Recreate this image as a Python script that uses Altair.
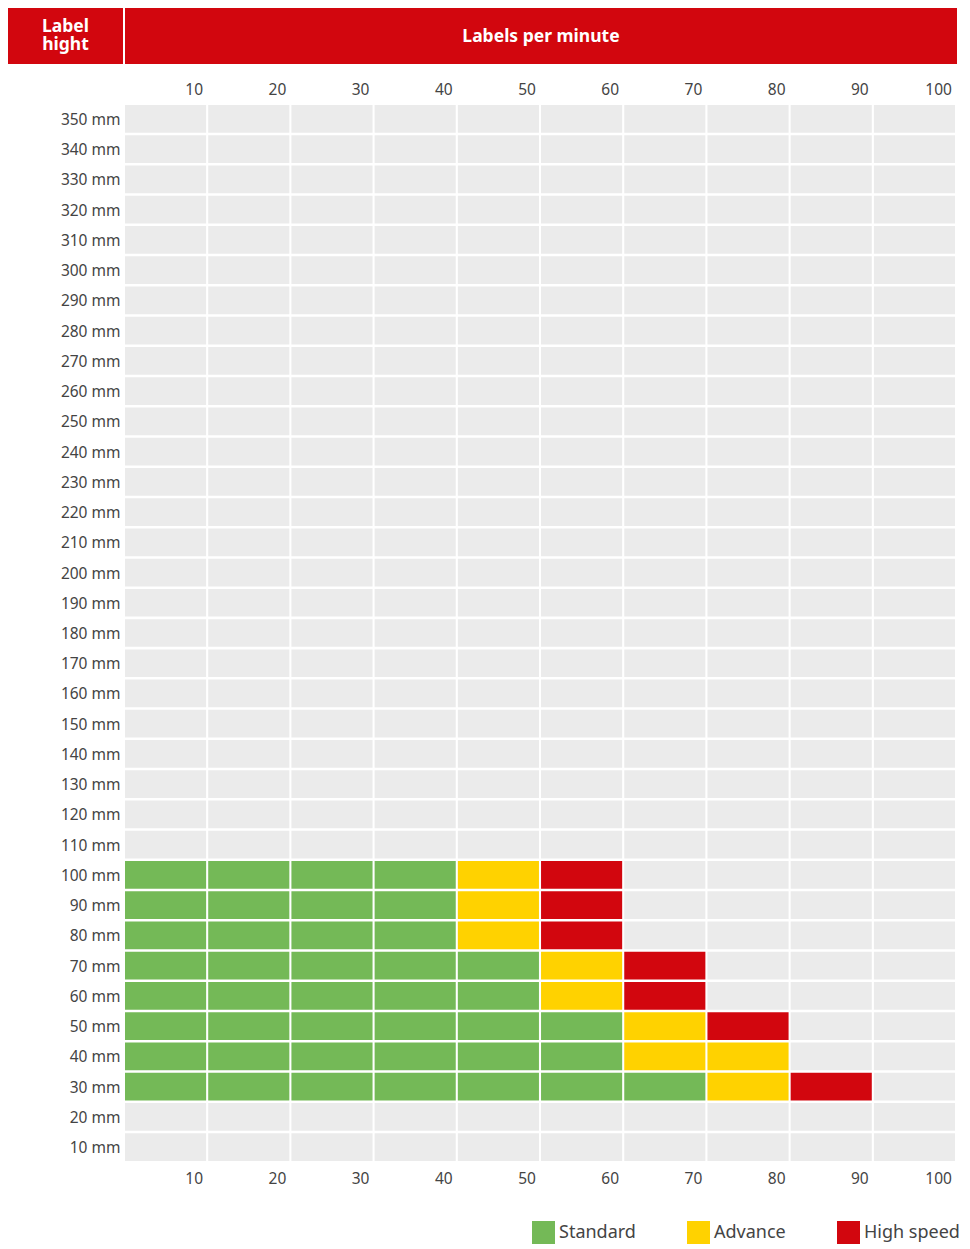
import altair as alt
import pandas as pd

# ---------------- data ----------------
speeds = [10, 20, 30, 40, 50, 60, 70, 80, 90, 100]
heights = [350, 340, 330, 320, 310, 300, 290, 280, 270, 260, 250, 240, 230, 220,
           210, 200, 190, 180, 170, 160, 150, 140, 130, 120, 110, 100, 90, 80,
           70, 60, 50, 40, 30, 20, 10]

# rows that have coloured cells, with the highest speed reached by each class
colored_heights = [100, 90, 80, 70, 60, 50, 40, 30]
standard_max = [40, 40, 40, 50, 50, 60, 60, 70]
advance_max = [50, 50, 50, 60, 60, 70, 80, 80]
highspeed_max = [60, 60, 60, 70, 70, 80, 80, 90]

categories = ["Standard", "Advance", "High speed", "Not available"]
legend_categories = ["Standard", "Advance", "High speed"]
colors = ["#74b957", "#ffd200", "#d2060e", "#ebebeb"]

header_left_text = "Label\nhight"
header_right_text = "Labels per minute"

RED = "#d2060e"
TEXT = "#444444"
FONT = "Noto Sans"

# ---------------- table ----------------
limits = {h: (s, a, hs) for h, s, a, hs in
          zip(colored_heights, standard_max, advance_max, highspeed_max)}
rows = []
for h in heights:
    for sp in speeds:
        cat = "Not available"
        if h in limits:
            s, a, hs = limits[h]
            if sp <= s:
                cat = "Standard"
            elif sp <= a:
                cat = "Advance"
            elif sp <= hs:
                cat = "High speed"
        rows.append({"height": h, "speed": sp, "category": cat})
df = pd.DataFrame(rows)

# ---------------- grid ----------------
x_scale = alt.Scale(paddingInner=0.025, paddingOuter=0)
y_scale = alt.Scale(paddingInner=0.083, paddingOuter=0)

x_axis_common = dict(
    title=None, ticks=False, tickSize=0, domain=False, grid=False,
    labelFont=FONT, labelFontSize=15.5, labelColor=TEXT,
    labelAlign="right", labelOffset=37.5, labelAngle=0,
)

cells = alt.Chart(df).mark_rect(strokeWidth=0).encode(
    x=alt.X("speed:O", scale=x_scale,
            axis=alt.Axis(orient="bottom", labelPadding=10, labelBaseline="top",
                          **x_axis_common)),
    y=alt.Y("height:O", sort="descending", scale=y_scale, axis=None),
    color=alt.Color("category:N",
                    scale=alt.Scale(domain=categories, range=colors),
                    legend=alt.Legend(
                        values=legend_categories, title=None, orient="none",
                        legendX=407, legendY=1213, direction="horizontal",
                        symbolType="square", symbolSize=529, symbolStrokeWidth=0,
                        symbolOpacity=1, labelFont=FONT, labelFontSize=18,
                        labelColor=TEXT, labelOffset=4, columnPadding=51,
                        padding=0)),
)

top_axis = alt.Chart(df).mark_rect(opacity=0).encode(
    x=alt.X("speed:O", scale=x_scale,
            axis=alt.Axis(orient="top", labelPadding=8, labelBaseline="bottom",
                          minExtent=41, maxExtent=41, **x_axis_common)),
)

grid = alt.layer(cells, top_axis).properties(width=830, height=1056)

# y labels column (sits under the "Label hight" box)
ylabels = alt.Chart(df).mark_rect(opacity=0).encode(
    y=alt.Y("height:O", sort="descending", scale=y_scale,
            axis=alt.Axis(orient="right", title=None, ticks=False, tickSize=0,
                          domain=False, grid=False, labelFont=FONT,
                          labelFontSize=15.5, labelColor=TEXT,
                          labelAlign="right", labelPadding=-3, labelOffset=1,
                          minExtent=0, maxExtent=0,
                          labelExpr="datum.label + ' mm'")),
).properties(width=115, height=1056,
             view=alt.ViewBackground(strokeWidth=0))

# ---------------- header ----------------
hdr_left = alt.Chart(pd.DataFrame({"t": [header_left_text]})).mark_text(
    color="white", font=FONT, fontWeight="bold", fontSize=17.5,
    lineBreak="\n", lineHeight=18, dy=-9.5,
).encode(text="t:N").properties(
    width=115, height=56,
    view=alt.ViewBackground(fill=RED, strokeWidth=0),
)

hdr_right = alt.Chart(pd.DataFrame({"t": [header_right_text]})).mark_text(
    color="white", font=FONT, fontWeight="bold", fontSize=17.5, dy=0.5,
).encode(text="t:N").properties(
    width=832, height=56,
    view=alt.ViewBackground(fill=RED, strokeWidth=0),
)

left_col = alt.vconcat(hdr_left, ylabels, spacing=41)
right_col = alt.vconcat(hdr_right, grid, spacing=0)

chart = alt.hconcat(left_col, right_col, spacing=2).resolve_scale(
    color="independent", y="independent"
).resolve_legend(color="independent").properties(
    padding=0, background="white"
).configure(font=FONT).configure_view(strokeWidth=0)

chart.save("out.html", embed_options={"renderer": "svg", "actions": False})
